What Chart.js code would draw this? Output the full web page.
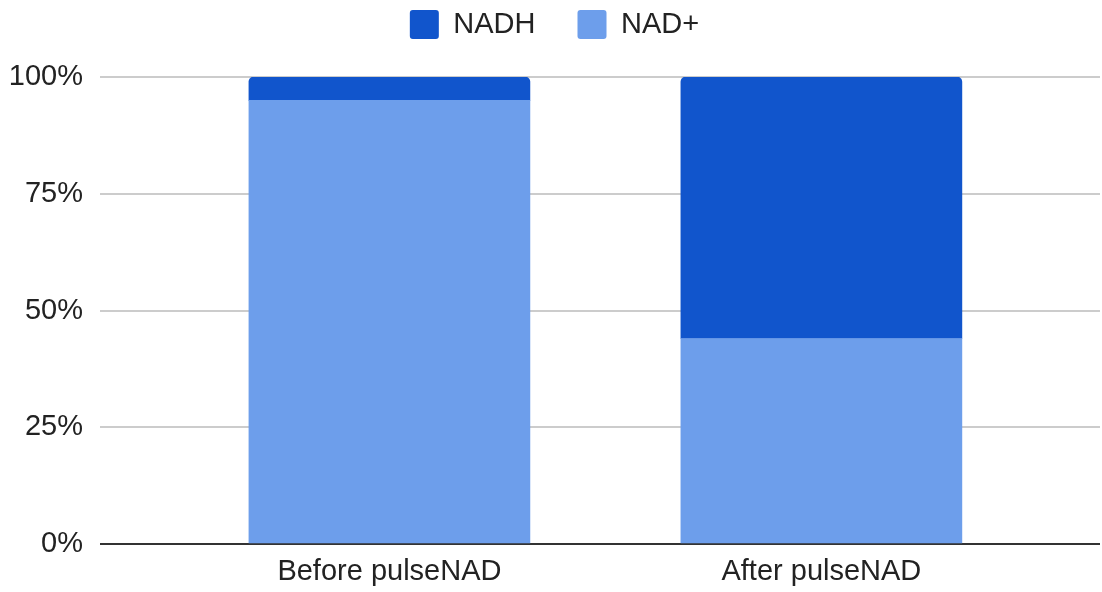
<!DOCTYPE html>
<html>
<head>
<meta charset="utf-8">
<script src="https://cdn.jsdelivr.net/npm/chart.js@4/dist/chart.umd.min.js"></script>
<style>
  html, body { margin: 0; padding: 0; background: #fff; }
  #wrap { width: 1102px; height: 592px; }
</style>
</head>
<body>
<div id="wrap"><canvas id="nadChart"></canvas></div>
<script>
var categories = ["Before pulseNAD", "After pulseNAD"];
var nadPlus = [95, 44];
var nadh = [5, 56];
var yTicks = [0, 25, 50, 75, 100];

var nadhColor = "#1155cc";
var nadPlusColor = "#6d9eeb";

function points(values) {
  return values.map(function (v, i) { return { x: i, y: v }; });
}

var font = { family: "'Liberation Sans', Arial, sans-serif", size: 29 };

new Chart("nadChart", {
  type: "bar",
  data: {
    datasets: [{
      label: "NAD+",
      backgroundColor: nadPlusColor,
      data: points(nadPlus),
      barThickness: 281
    }, {
      label: "NADH",
      backgroundColor: nadhColor,
      data: points(nadh),
      barThickness: 281,
      borderRadius: { topLeft: 5, topRight: 5, bottomLeft: 0, bottomRight: 0 },
      borderSkipped: false
    }]
  },
  options: {
    responsive: true,
    maintainAspectRatio: false,
    animation: false,
    layout: { padding: { left: 9, right: 2, top: -32, bottom: 3 } },
    plugins: {
      tooltip: { enabled: false },
      // empty spacer between legend and plot
      title: { display: true, text: "", weight: 500, font: { size: 10 }, padding: 8 },
      legend: {
        position: "top",
        labels: {
          font: font,
          color: "#222",
          boxWidth: 29,
          boxHeight: 29,
          useBorderRadius: true,
          borderRadius: 3,
          padding: 42,
          sort: function (a, b) { return b.datasetIndex - a.datasetIndex; }
        }
      }
    },
    scales: {
      x: {
        type: "linear",
        stacked: true,
        offset: false,
        min: -0.670,
        max: 1.645,
        grid: { display: false, drawTicks: false },
        border: { display: false },
        afterBuildTicks: function (axis) {
          axis.ticks = categories.map(function (c, i) { return { value: i }; });
        },
        afterFit: function (axis) { axis.height = 45; },
        ticks: {
          font: font,
          color: "#222",
          padding: 11,
          autoSkip: false,
          maxRotation: 0,
          callback: function (v) { return categories[v]; }
        }
      },
      y: {
        stacked: true,
        min: 0,
        max: 100,
        afterBuildTicks: function (axis) {
          axis.ticks = yTicks.map(function (v) { return { value: v }; });
        },
        afterFit: function (axis) { axis.width = 91; },
        grid: {
          drawTicks: false,
          lineWidth: 2,
          color: function (ctx) { return ctx.tick && ctx.tick.value === 0 ? "#333" : "#cccccc"; }
        },
        border: { display: false },
        ticks: {
          font: font,
          color: "#222",
          padding: 17,
          callback: function (v) { return v + "%"; }
        }
      }
    }
  }
});
</script>
</body>
</html>
